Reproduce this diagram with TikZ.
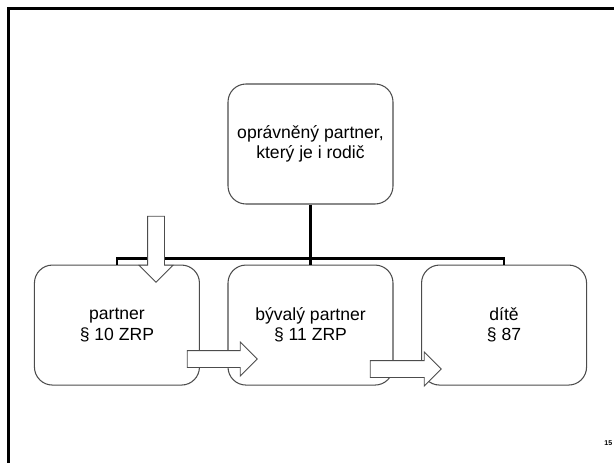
\documentclass[tikz,border=0pt]{standalone}
\usepackage{fontspec}
\setmainfont{Liberation Sans}
\usetikzlibrary{positioning, shapes.arrows}

\begin{document}
\begin{tikzpicture}[
  node distance = 0.55cm,
  box/.style = {
      draw=black!70, line width=0.6pt, rectangle, rounded corners=0.36cm,
      minimum width=3.3cm, minimum height=2.4cm, align=center,
      font=\fontsize{10}{11.5}\selectfont
  },
  link/.style = {line width=1.4pt},
  blockarrow/.style = {
      draw=black!70, fill=white, line width=0.5pt, single arrow,
      inner sep=0.16cm, single arrow head extend=0.17cm
  }
]
  \clip (0,0) rectangle (12.28,-9.24);
  \draw[line width=1.7pt] (0.17,-9.4) |- (12.4,-0.17);  % ramecek slajdu

  % uzly
  \node[box] (parent) at (6.21,-2.88) {oprávněný partner,\\ který je i rodič};
  \node[box, below=1.2cm of parent] (former) {bývalý partner\\§ 11 ZRP};
  \node[box, left=of former] (partner) {partner\\§ 10 ZRP};
  \node[box, right=of former] (child) {dítě\\§ 87};

  % spojnice
  \draw[link] (parent.south) -- (former.north);
  \draw[link] (partner.north) -- ++(0,0.12) -| (child.north);

  % blokove sipky
  \node[blockarrow, minimum height=1.32cm, shape border rotate=270] (down) at (3.12,-4.9) {};
  \node[blockarrow, minimum height=1.4cm] (toformer) at (4.36,-7.18) {};
  \node[blockarrow, minimum height=1.42cm] (tochild) at (8.03,-7.38) {};

  \node[font=\fontsize{4}{5}\selectfont\bfseries, anchor=east, inner sep=0.5pt] (slidenum) at (12.27,-8.86) {15};  % cislo slajdu
\end{tikzpicture}
\end{document}
